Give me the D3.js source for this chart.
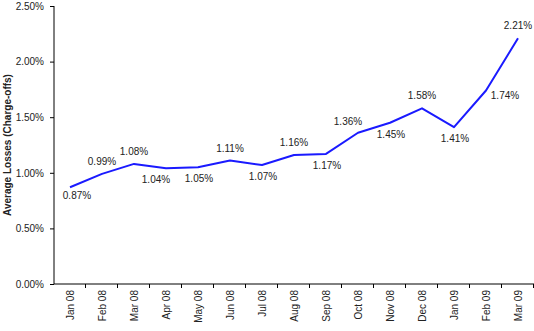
<!DOCTYPE html>
<html>
<head>
<meta charset="utf-8">
<script src="https://cdn.jsdelivr.net/npm/d3@7/dist/d3.min.js"></script>
<style>
  html, body { margin: 0; padding: 0; background: #fff; }
  svg { display: block; }
  text { font-family: "Liberation Sans", Arial, sans-serif; fill: #222; }
</style>
</head>
<body>
<svg id="chart" width="534" height="331"></svg>
<script>
// Monthly average losses (charge-offs), in percent
const months = ["Jan 08", "Feb 08", "Mar 08", "Apr 08", "May 08", "Jun 08", "Jul 08",
                "Aug 08", "Sep 08", "Oct 08", "Nov 08", "Dec 08", "Jan 09", "Feb 09", "Mar 09"];
const losses = [0.87, 0.99, 1.08, 1.04, 1.05, 1.11, 1.07, 1.16, 1.17, 1.36, 1.45, 1.58, 1.41, 1.74, 2.21];
const yTicks = [0, 0.5, 1.0, 1.5, 2.0, 2.5];

// where each value label sits relative to its point
const labelPlacement = ["belowRight", "above", "above", "belowLeft", "below", "above", "below",
                        "above", "below", "aboveLeft", "below", "above", "below", "right", "above"];

const svg = d3.select("#chart");
const margin = { left: 54, right: 0, top: 6, bottom: 47 };
const W = 534, H = 331;

const x = d3.scaleBand()
  .domain(months)
  .range([margin.left, W - margin.right])
  .padding(0);

const y = d3.scaleLinear()
  .domain([0, 2.5])
  .range([H - margin.bottom, margin.top]);

const pct = v => d3.format(".2f")(v) + "%";

// y axis
const yAxis = svg.append("g")
  .attr("transform", `translate(${margin.left},0)`)
  .call(d3.axisLeft(y).tickValues(yTicks).tickSize(4).tickPadding(6).tickFormat(pct));
yAxis.select(".domain").attr("stroke", "#000").attr("d", `M0,${y(0)}V${y(2.5)}`);
yAxis.selectAll(".tick line").attr("stroke", "#000");
yAxis.selectAll(".tick text")
  .style("font-size", "10px")
  .style("font-family", "'Liberation Sans', Arial, sans-serif")
  .attr("fill", "#222");

// x axis with ticks between categories
const xAxis = svg.append("g")
  .attr("transform", `translate(0,${y(0)})`);
xAxis.append("line")
  .attr("x1", margin.left).attr("x2", W - margin.right)
  .attr("y1", 0).attr("y2", 0)
  .attr("stroke", "#000");
const bounds = months.map(m => x(m) + x.bandwidth());
xAxis.selectAll("line.tick")
  .data(bounds)
  .join("line")
  .attr("class", "tick")
  .attr("x1", d => d - 0.5).attr("x2", d => d - 0.5)
  .attr("y1", 0).attr("y2", 4)
  .attr("stroke", "#000");
xAxis.selectAll("text.lbl")
  .data(months)
  .join("text")
  .attr("class", "lbl")
  .attr("transform", d => `translate(${x(d) + x.bandwidth() / 2},6) rotate(-90)`)
  .attr("text-anchor", "end")
  .attr("dominant-baseline", "central")
  .style("font-size", "10px")
  .text(d => d);

// axis title
svg.append("text")
  .attr("transform", `translate(7,${(y(0) + y(2.5)) / 2}) rotate(-90)`)
  .attr("text-anchor", "middle")
  .attr("dominant-baseline", "central")
  .style("font-size", "10px")
  .style("font-weight", "bold")
  .text("Average Losses (Charge-offs)");

// line
const cx = m => x(m) + x.bandwidth() / 2;
const line = d3.line()
  .x((d, i) => cx(months[i]))
  .y(d => y(d));

svg.append("path")
  .datum(losses)
  .attr("fill", "none")
  .attr("stroke", "#1a1aff")
  .attr("stroke-width", 2)
  .attr("stroke-linejoin", "round")
  .attr("d", line);

// value labels
const offsets = {
  above:      [0, -12.5],
  aboveLeft:  [-10, -11.5],
  below:      [1, 11.5],
  belowLeft:  [-10, 11.5],
  belowRight: [7, 8],
  right:      [19, 4.5]
};
svg.selectAll("text.val")
  .data(losses)
  .join("text")
  .attr("class", "val")
  .attr("x", (d, i) => cx(months[i]) + offsets[labelPlacement[i]][0])
  .attr("y", (d, i) => y(d) + offsets[labelPlacement[i]][1])
  .attr("text-anchor", "middle")
  .attr("dominant-baseline", "central")
  .style("font-size", "10px")
  .text(d => pct(d));
</script>
</body>
</html>
